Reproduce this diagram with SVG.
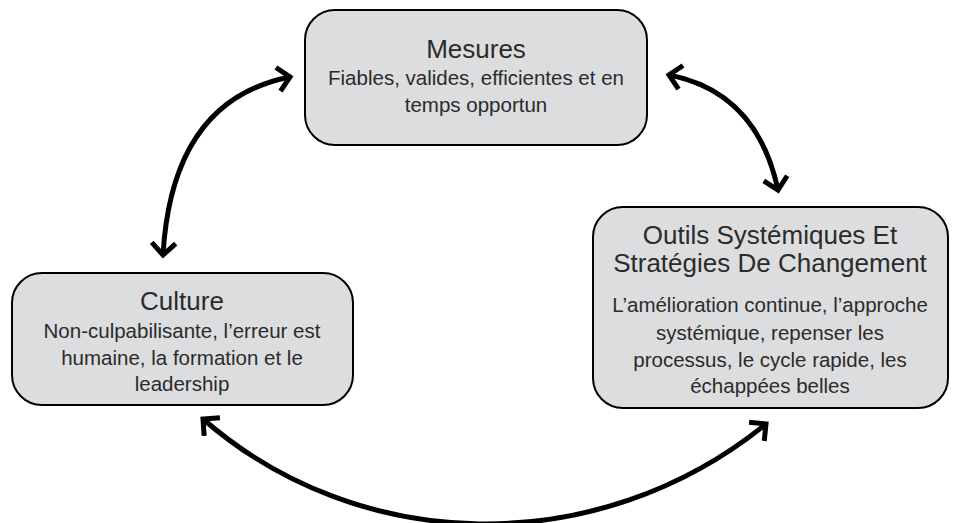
<svg xmlns="http://www.w3.org/2000/svg" width="953" height="523" viewBox="0 0 953 523">
<style>
.box{fill:#dcdddf;stroke:#000;stroke-width:2}
.t{font-family:"Liberation Sans",Arial,sans-serif;fill:#2b2b2b;text-anchor:middle}
.title{font-size:26px}
.body{font-size:20.5px}
.con{fill:none;stroke:#000;stroke-width:5;marker-start:url(#ah);marker-end:url(#ah)}
</style>
<defs>
<marker id="ah" markerUnits="userSpaceOnUse" markerWidth="30" markerHeight="30" viewBox="-15 -15 30 30" refX="0" refY="0" orient="auto-start-reverse" overflow="visible">
<path d="M-12,-12 L0,0 L-12,12" fill="none" stroke="#000" stroke-width="5" stroke-linejoin="miter" stroke-miterlimit="4"/>
</marker>
</defs>
<g id="connectors">
<path class="con" d="M163,255 Q172,100 290,77"/>
<path class="con" d="M669,75 Q757,92 778,190"/>
<path class="con" d="M203,419 C359,555 597,561 766,424"/>
</g>
<g id="mesures">
<rect class="box" x="305" y="10" width="342" height="135" rx="30"/>
<text class="t title" x="476" y="58">Mesures</text>
<text class="t body" x="476" y="85">Fiables, valides, efficientes et en</text>
<text class="t body" x="476" y="112">temps opportun</text>
</g>
<g id="culture">
<rect class="box" x="12" y="273" width="341" height="132" rx="30"/>
<text class="t title" x="182" y="310">Culture</text>
<text class="t body" x="182" y="338">Non-culpabilisante, l’erreur est</text>
<text class="t body" x="182" y="365">humaine, la formation et le</text>
<text class="t body" x="182" y="391">leadership</text>
</g>
<g id="outils">
<rect class="box" x="593" y="207" width="355" height="201" rx="30"/>
<text class="t title" x="770" y="244">Outils Systémiques Et</text>
<text class="t title" x="770" y="272">Stratégies De Changement</text>
<text class="t body" x="770" y="312">L’amélioration continue, l’approche</text>
<text class="t body" x="770" y="340">systémique, repenser les</text>
<text class="t body" x="770" y="367">processus, le cycle rapide, les</text>
<text class="t body" x="770" y="393">échappées belles</text>
</g>
</svg>
